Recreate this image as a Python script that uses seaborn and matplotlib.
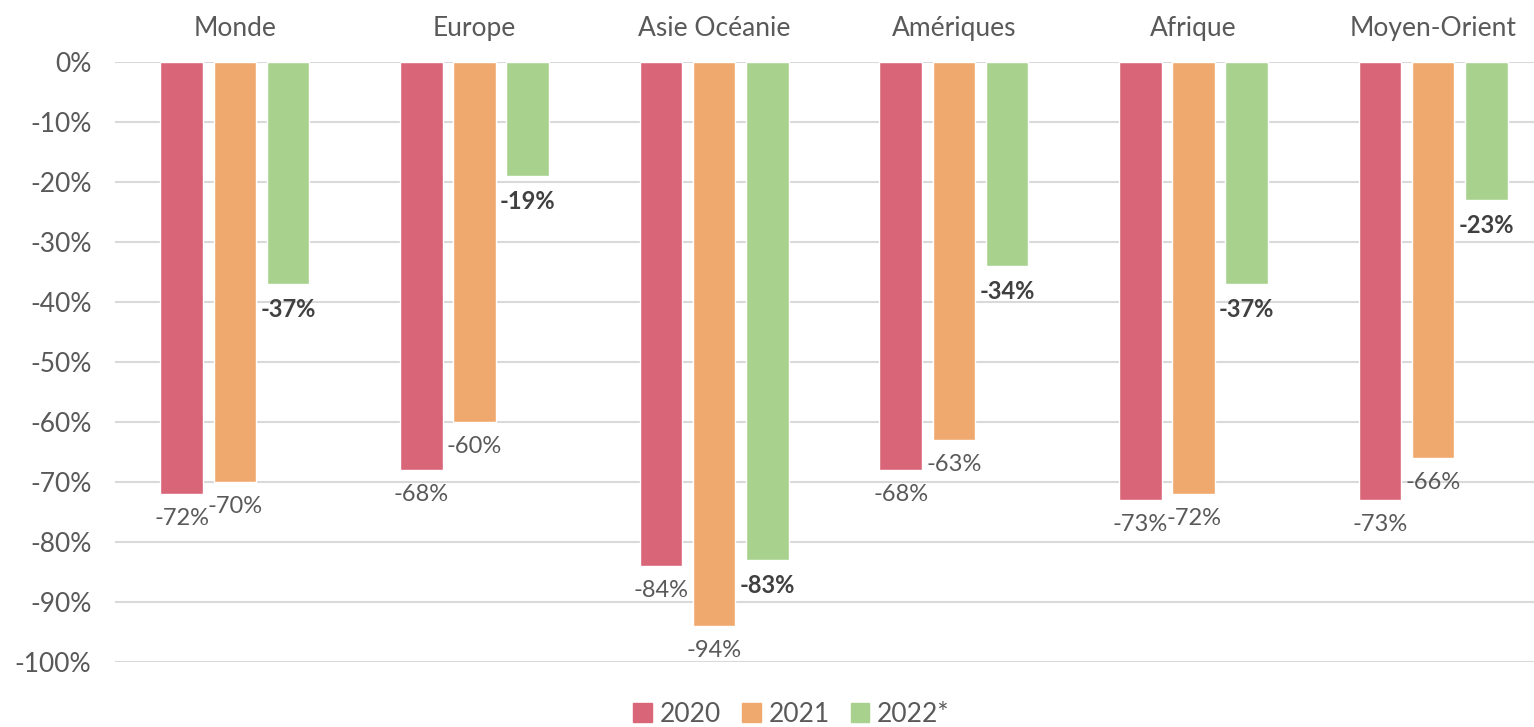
import numpy as np
import pandas as pd
import seaborn as sns
import matplotlib.pyplot as plt
from matplotlib.patches import Patch

# data
regions = ["Monde", "Europe", "Asie Océanie", "Amériques", "Afrique", "Moyen-Orient"]
years = ["2020", "2021", "2022*"]
v2020 = [-72, -68, -84, -68, -73, -73]
v2021 = [-70, -60, -94, -63, -72, -66]
v2022 = [-37, -19, -83, -34, -37, -23]
colors = ["#D96678", "#EFA96E", "#A9D18E"]

df = pd.DataFrame({
    "region": regions * 3,
    "year": [years[0]] * 6 + [years[1]] * 6 + [years[2]] * 6,
    "value": v2020 + v2021 + v2022,
})

sns.set_theme(style="white")
plt.rcParams['font.family'] = ['Lato', 'DejaVu Sans']
gray = "#595959"

fig = plt.figure(figsize=(15.34, 7.27), dpi=100)
# plot area runs a bit past the right edge, as in the original
ax = fig.add_axes([115 / 1534, 65 / 727, 1438 / 1534, 600 / 727])

sns.barplot(data=df, x="region", y="value", hue="year", palette=colors,
            width=0.665, gap=0.2, ax=ax, legend=False, saturation=1)

ax.set_ylim(-100, 0)
ax.set_xlim(-0.5, 5.5)
ax.set_yticks(np.arange(-100, 1, 10))
ax.set_yticklabels([f"{t}%" for t in range(-100, 1, 10)], fontsize=19, color=gray)
ax.tick_params(axis="y", length=0, pad=17)
ax.xaxis.tick_top()
ax.tick_params(axis="x", length=0, pad=15, labelsize=19, labelcolor=gray)
ax.set_xlabel("")
ax.set_ylabel("")
ax.yaxis.grid(True, color="#D9D9D9", linewidth=1.5)
ax.set_axisbelow(True)
for s in ax.spines.values():
    s.set_visible(False)

for i, cont in enumerate(ax.containers):
    if i < 2:
        ax.bar_label(cont, fmt="%.0f%%", padding=10, fontsize=17, color=gray)
    else:
        ax.bar_label(cont, fmt="%.0f%%", padding=10, fontsize=17, color="#404040",
                     fontweight="bold")

handles = [Patch(color=c, label=y) for c, y in zip(colors, years)]
fig.legend(handles=handles, loc="lower center", bbox_to_anchor=(0.516, -0.032), ncol=3,
           frameon=False, fontsize=19, handlelength=0.7, handleheight=0.7,
           handletextpad=0.3, columnspacing=0.8, labelcolor=gray)

fig.savefig("out.png", dpi=100)
